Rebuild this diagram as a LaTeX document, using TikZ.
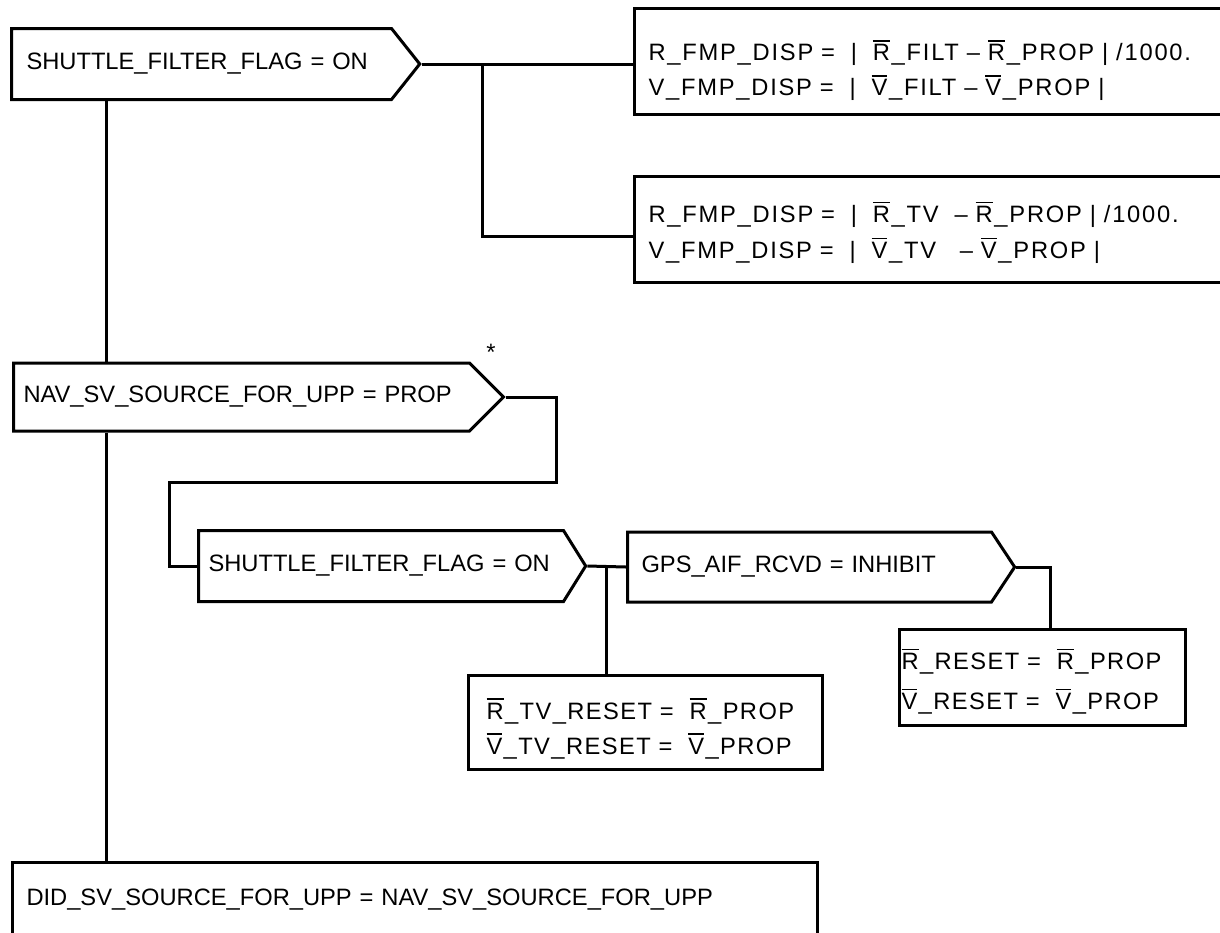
\documentclass[tikz,border=0pt]{standalone}
\usepackage{fontspec}
\setmainfont{Liberation Sans}
\newfontfamily\boxfont{Liberation Sans}[LetterSpace=6]
\newfontfamily\dispfont{Liberation Sans}[LetterSpace=7.5]
\usetikzlibrary{shapes.symbols, positioning, calc}
\newsavebox\ovbox
\newcommand{\vb}[1]{\leavevmode\sbox\ovbox{#1}%
  \rlap{\rule[\dimexpr\ht\ovbox+3pt\relax]{\wd\ovbox}{1.4pt}}#1}

\begin{document}
\begin{tikzpicture}[x=1pt, y=-1pt,
    every node/.style={font=\fontsize{23.7}{35}\selectfont},
    cond/.style={draw, line width=3pt, shape=signal, signal to=east,
        anchor=west, align=left, inner ysep=0pt},
    box/.style={draw, line width=3pt, anchor=north west, align=left,
        inner xsep=14pt, font=\boxfont\fontsize{23.7}{35}\selectfont},
    line/.style={line width=3pt}
  ]
  \useasboundingbox (0,0) rectangle (1220,932);
  \clip (0,0) rectangle (1220,932);

  \coordinate (spine) at (106,0);
  \coordinate (split) at (482,0);

  \node[cond, signal pointer angle=103, inner xsep=15pt, text width=350pt,
    minimum height=71pt] (flag1) at (10,64) {SHUTTLE\_FILTER\_FLAG = ON};
  \node[box, font=\dispfont\fontsize{23.7}{35}\selectfont, text width=570pt,
    minimum height=106pt] (dispf) at (633,7)
  {\rule{0pt}{39pt}R\_FMP\_DISP = ~| ~\vb{R}\_FILT – \vb{R}\_PROP | /1000.\\
    V\_FMP\_DISP = ~| ~\vb{V}\_FILT – \vb{V}\_PROP |};
  \node[box, font=\dispfont\fontsize{23.7}{36}\selectfont,
    below=59pt of dispf.south west, anchor=north west,
    text width=570pt, minimum height=106pt] (disptv)
  {\rule{0pt}{27pt}R\_FMP\_DISP = ~| ~\vb{R}\_TV ~– \vb{R}\_PROP | /1000.\\
    V\_FMP\_DISP = ~| ~\vb{V}\_TV ~~– \vb{V}\_PROP |};

  \node (star) at (491,352) {*};
  \node[cond, signal pointer angle=90, inner xsep=10pt, text width=436pt,
    minimum height=68pt] (navsrc) at (12,397) {NAV\_SV\_SOURCE\_FOR\_UPP = PROP};

  \node[cond, signal pointer angle=116, inner xsep=10pt, text width=345pt,
    minimum height=71pt] (flag2) at (197,566) {SHUTTLE\_FILTER\_FLAG = ON};
  \node[cond, signal pointer angle=113, inner xsep=14pt, text width=336pt,
    minimum height=70pt] (aif) at (626,567) {GPS\_AIF\_RCVD = INHIBIT};

  \node[box, inner xsep=18pt, text width=318pt, minimum height=94pt] (tvreset)
  at (467,674) {\rule{0pt}{33pt}\vb{R}\_TV\_RESET = ~\vb{R}\_PROP\\
    \vb{V}\_TV\_RESET = ~\vb{V}\_PROP};
  \node[box, font=\boxfont\fontsize{23.7}{40}\selectfont, inner xsep=2pt,
    text width=282pt, minimum height=96pt] (reset) at (898,628)
  {\rule{0pt}{29pt}\vb{R}\_RESET = ~\vb{R}\_PROP\\
    \vb{V}\_RESET = ~\vb{V}\_PROP};

  \node[box, font=\fontsize{23.7}{35}\selectfont, text width=777pt,
    minimum height=74pt] (didsrc) at (11,861)
  {DID\_SV\_SOURCE\_FOR\_UPP = NAV\_SV\_SOURCE\_FOR\_UPP};

  % main line
  \draw[line] (flag1.south -| spine) -- (navsrc.north -| spine);
  \draw[line] (navsrc.south -| spine) -- (didsrc.north -| spine);
  % first decision
  \draw[line] (flag1.east) -- (flag1.east -| dispf.west);
  \draw[line] (flag1.east -| split) |- ([yshift=-7pt]disptv.west);
  % second decision
  \draw[line] (navsrc.east) -- ++(51,0) -- ++(0,85)
  -| ([xshift=-28pt]flag2.west) -- (flag2.west);
  \draw[line] (flag2.east) -- (aif.west);
  \coordinate (tee) at ($(flag2.east)!.5!(aif.west)$);
  \draw[line] (tee) -- (tee |- tvreset.north);
  \draw[line] (aif.east) -| ([xshift=8pt]reset.north);
\end{tikzpicture}
\end{document}
